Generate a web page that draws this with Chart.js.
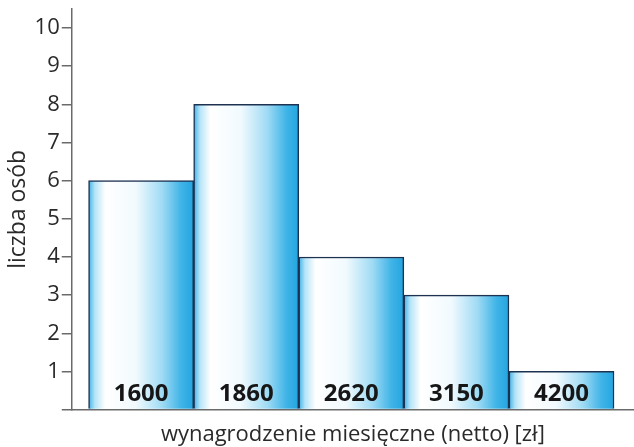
<!DOCTYPE html>
<html>
<head>
<meta charset="utf-8">
<script src="https://cdn.jsdelivr.net/npm/chart.js@4.4.1/dist/chart.umd.min.js"></script>
<style>
  html, body { margin: 0; padding: 0; background: #fff; }
  canvas { display: block; }
</style>
</head>
<body>
<canvas id="chart" width="634" height="447"></canvas>
<script>
// wynagrodzenie (zl) -> liczba osob
var salaries = ['1600', '1860', '2620', '3150', '4200'];
var counts = [6, 8, 4, 3, 1];
var yTicks = [1, 2, 3, 4, 5, 6, 7, 8, 9, 10];

var FONT = "'Open Sans', 'DejaVu Sans', sans-serif";

var points = salaries.map(function(s, i) { return { x: i, y: counts[i] }; });

// gradient per bar, left -> right
var barFill = function(context) {
  var chart = context.chart;
  var xs = chart.scales.x;
  if (!xs || context.parsed == null) return '#7fcff0';
  var i = context.parsed.x;
  var l = xs.getPixelForValue(i - 0.5);
  var r = xs.getPixelForValue(i + 0.5);
  if (!isFinite(l) || !isFinite(r)) return '#7fcff0';
  var g = chart.ctx.createLinearGradient(l, 0, r, 0);
  g.addColorStop(0, '#3fb2e6');
  g.addColorStop(0.06, '#b5e4f7');
  g.addColorStop(0.16, '#ffffff');
  g.addColorStop(0.45, '#f1fafe');
  g.addColorStop(0.7, '#a0dbf4');
  g.addColorStop(0.88, '#40b4e7');
  g.addColorStop(1, '#22a5e0');
  return g;
}

// salary labels drawn inside the bars at the bottom
var insideLabels = {
  id: 'insideLabels',
  afterDatasetsDraw: function(chart) {
    var ctx = chart.ctx;
    var xs = chart.scales.x;
    var ys = chart.scales.y;
    ctx.save();
    ctx.font = "bold 24px " + FONT;
    ctx.fillStyle = '#161616';
    ctx.textAlign = 'center';
    ctx.textBaseline = 'middle';
    salaries.forEach(function(s, i) {
      ctx.fillText(s, xs.getPixelForValue(i), ys.getPixelForValue(0) - 15);
    });
    ctx.restore();
  }
};

new Chart(document.getElementById('chart'), {
  type: 'bar',
  data: {
    datasets: [{
      data: points,
      backgroundColor: barFill,
      borderColor: '#1d3150',
      borderWidth: 1.5,
      barPercentage: 1,
      categoryPercentage: 1
    }]
  },
  options: {
    responsive: false,
    animation: false,
    layout: { padding: { top: 9, right: 0, bottom: -1, left: 0 } },
    plugins: {
      legend: { display: false },
      tooltip: { enabled: false }
    },
    scales: {
      x: {
        type: 'linear',
        offset: false,
        min: -0.66,
        max: 4.69,
        afterBuildTicks: function(axis) {
          axis.ticks = salaries.map(function(s, i) { return { value: i }; });
        },
        ticks: { display: false },
        grid: { display: false, offset: false },
        border: { display: true, color: '#6a6a6a', width: 1.5 },
        title: {
          display: true,
          text: 'wynagrodzenie miesięczne (netto) [zł]',
          color: '#2a2a2a',
          font: { family: FONT, size: 22 },
          padding: { top: 4, bottom: 0 }
        }
      },
      y: {
        min: 0,
        max: 10.5,
        afterBuildTicks: function(axis) {
          axis.ticks = [0].concat(yTicks).map(function(v) { return { value: v }; });
        },
        afterFit: function(axis) {
          axis.paddingTop = 0;
        },
        ticks: {
          color: '#2a2a2a',
          font: { family: FONT, size: 22 },
          padding: 2,
          callback: function(v) { return v === 0 ? '' : String(v); }
        },
        grid: {
          drawOnChartArea: false,
          drawTicks: true,
          tickLength: 10,
          color: '#6a6a6a',
          lineWidth: 1.5
        },
        border: { display: true, color: '#6a6a6a', width: 1.5 },
        title: {
          display: true,
          text: 'liczba osób',
          color: '#2a2a2a',
          font: { family: FONT, size: 23 },
          padding: { top: 5, bottom: 0 }
        }
      }
    }
  },
  plugins: [insideLabels]
});
</script>
</body>
</html>
